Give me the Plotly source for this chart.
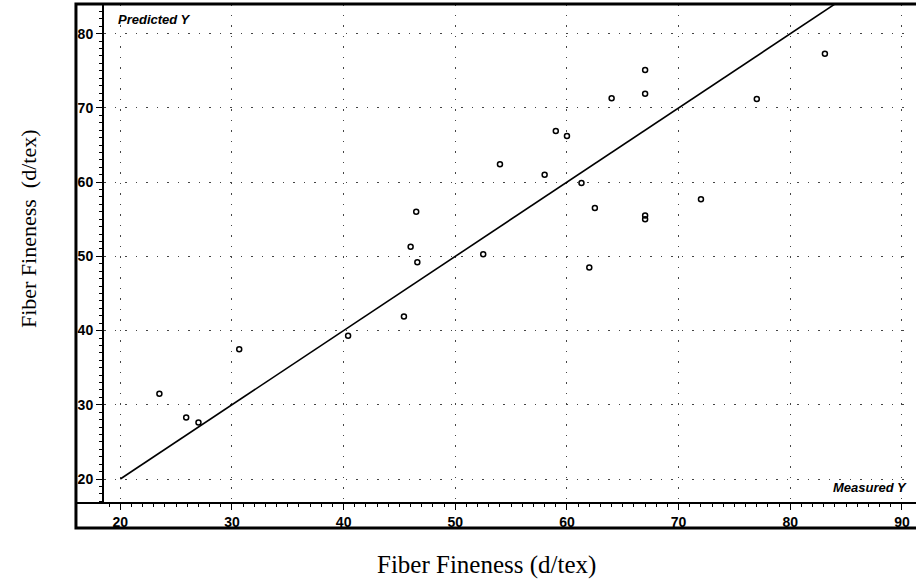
import plotly.graph_objects as go

measured = [23.5, 25.9, 27.0, 30.65, 40.4, 45.4, 46.0, 46.5, 46.6, 52.5, 54.0, 58.0,
            59.0, 60.0, 61.3, 62.5, 62.0, 64.0, 67.0, 67.0, 67.0, 67.0, 72.0, 77.0, 83.1]
predicted = [31.5, 28.3, 27.6, 37.5, 39.3, 41.9, 51.3, 56.0, 49.2, 50.3, 62.4, 61.0,
             66.9, 66.2, 59.9, 56.5, 48.5, 71.3, 75.1, 71.9, 55.5, 55.0, 57.7, 71.2, 77.3]
line_x = [20, 90]
line_y = [20, 90]
x_ticks = [20, 30, 40, 50, 60, 70, 80, 90]
y_ticks = [20, 30, 40, 50, 60, 70, 80]

fig = go.Figure()
fig.add_trace(go.Scatter(x=line_x, y=line_y, mode="lines",
                         line=dict(color="black", width=1.6), hoverinfo="skip"))
fig.add_trace(go.Scatter(x=measured, y=predicted, mode="markers",
                         marker=dict(symbol="circle-open", size=5, color="black",
                                     line=dict(width=1.5, color="black"))))

tickfont = dict(family="Liberation Sans, Arial", size=14, color="black", weight="bold")
grid = dict(showgrid=True, gridcolor="#444", griddash="1.5px,9px", gridwidth=1.3)
fig.update_xaxes(range=[18.54, 90.9], tickvals=x_ticks, ticks="outside", ticklen=6,
                 tickwidth=1.2, tickcolor="black", tickfont=tickfont,
                 showline=False, zeroline=False,
                 minor=dict(dtick=1, ticks="outside", ticklen=3, tickcolor="black",
                            showgrid=False), **grid)
fig.update_yaxes(range=[16.77, 84.0], tickvals=y_ticks, ticks="outside", ticklen=6,
                 tickwidth=1.2, tickcolor="black", tickfont=tickfont,
                 showline=True, linecolor="black", linewidth=2, zeroline=False,
                 minor=dict(dtick=1, ticks="outside", ticklen=3, tickcolor="black",
                            showgrid=False), **grid)

fig.update_layout(
    width=916, height=585, showlegend=False,
    plot_bgcolor="white", paper_bgcolor="white",
    margin=dict(l=104, r=4, t=4, b=82),
    shapes=[
        dict(type="rect", xref="paper", yref="paper", x0=-0.0347, x1=1.01, y0=-0.0501, y1=1.0,
             line=dict(color="black", width=3)),
        dict(type="line", xref="paper", yref="paper", x0=-0.0347, x1=1.01, y0=0, y1=0,
             line=dict(color="black", width=2)),
    ],
    annotations=[
        dict(text="<b><i>Predicted Y</i></b>", xref="paper", yref="paper", x=0.015, y=0.988,
             xanchor="left", yanchor="top", showarrow=False,
             font=dict(family="Liberation Sans, Arial", size=13, color="black")),
        dict(text="<b><i>Measured Y</i></b>", xref="paper", yref="paper", x=0.996, y=0.012,
             xanchor="right", yanchor="bottom", showarrow=False,
             font=dict(family="Liberation Sans, Arial", size=13, color="black")),
        dict(text="Fiber Fineness\u00a0\u00a0(d/tex)", xref="paper", yref="paper",
             x=-0.094, y=0.549, xanchor="center", yanchor="middle", textangle=-90,
             showarrow=False, font=dict(family="Liberation Serif, Times New Roman", size=22, color="black")),
        dict(text="Fiber Fineness (d/tex)", xref="paper", yref="paper",
             x=0.474, y=-0.124, xanchor="center", yanchor="middle",
             showarrow=False, font=dict(family="Liberation Serif, Times New Roman", size=25, color="black")),
    ],
)
fig.write_html("out.html", config={"displayModeBar": False},
               post_script="document.body.style.margin='0';document.body.style.overflow='hidden';")
